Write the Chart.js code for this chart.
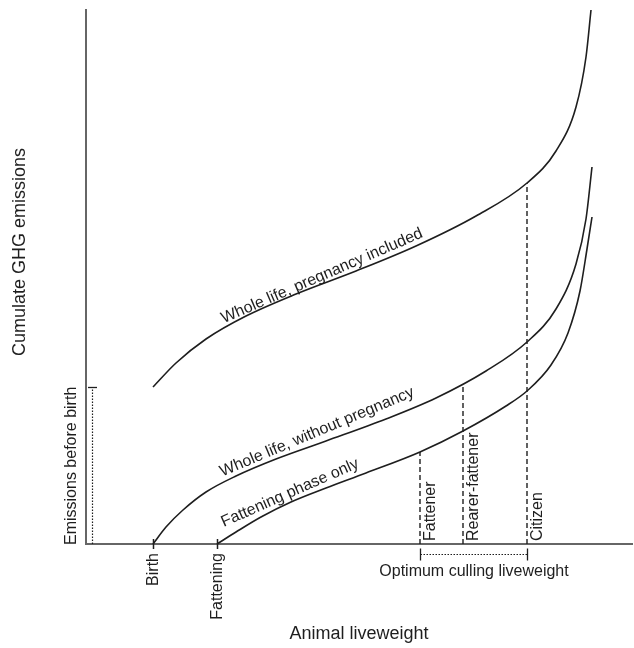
<!DOCTYPE html>
<html><head><meta charset="utf-8">
<script src="https://cdn.jsdelivr.net/npm/chart.js@4.4.0/dist/chart.umd.min.js"></script>
<style>html,body{margin:0;padding:0;background:#fff;}#wrap{width:634px;height:648px;position:relative;}</style>
</head><body><div id="wrap"><canvas id="c"></canvas></div>
<script>
// Schematic values (arbitrary units)
const liveweightPregnancy = [67, 90, 120, 160, 210, 270, 330, 390, 441, 470, 490, 500, 505];
const ghgPregnancy        = [157, 181, 205, 228, 250, 273, 298, 328, 361, 393, 437, 487, 534];
const liveweightNoPregnancy = [67, 80, 97, 120, 150, 190, 240, 300, 350, 400, 441, 470, 490, 500, 506];
const ghgNoPregnancy        = [0, 17, 34, 52, 68, 85, 103, 125, 146, 173, 202, 235, 280, 325, 377];
const liveweightFattening = [131, 150, 175, 205, 240, 280, 334, 377, 420, 441, 465, 482, 494, 501, 506];
const ghgFattening        = [0, 12, 27, 42, 56, 71, 92, 113, 138, 153, 179, 211, 253, 295, 327];
const markerNames = ['Birth', 'Fattening'];
const markerLiveweights = [67, 131];
const cullingNames = ['Fattener', 'Rearer-fattener', 'Citizen'];
const cullingLiveweights = [334, 377, 441];
const cullingEmissions = [92, 160, 361];
const emissionsBeforeBirth = 157;
const curveLabels = ['Whole life, pregnancy included', 'Whole life, without pregnancy', 'Fattening phase only'];
const curveLabelLiveweights = [236, 231, 204];
const curveLabelEmissions = [268, 112, 51];
const xMax = 546, yMax = 534;

const FONT = '"Liberation Sans", Arial, Helvetica, sans-serif';
const INK = '#1e1e1e';

const pts = (xs, ys) => xs.map((v, i) => ({x: v, y: ys[i]}));
const curve = (xs, ys) => ({data: pts(xs, ys), borderColor: INK, borderWidth: 1.6,
  pointRadius: 0, cubicInterpolationMode: 'monotone', clip: false, fill: false});
const dashed = i => ({data: [{x: cullingLiveweights[i], y: 0}, {x: cullingLiveweights[i], y: cullingEmissions[i]}],
  borderColor: INK, borderWidth: 1.4, borderDash: [5, 3], pointRadius: 0, clip: false, fill: false});

const annot = {
  id: 'annot',
  afterDatasetsDraw(chart) {
    const {ctx, scales: {x, y}, chartArea: a} = chart;
    ctx.save();
    ctx.fillStyle = INK; ctx.strokeStyle = INK;
    const rotText = (t, px, py, ang, align) => {
      ctx.save(); ctx.translate(px, py); ctx.rotate(ang);
      ctx.textAlign = align; ctx.textBaseline = 'middle'; ctx.fillText(t, 0, 0); ctx.restore();
    };
    // axis titles
    ctx.font = '18px ' + FONT;
    ctx.textAlign = 'center'; ctx.textBaseline = 'middle';
    ctx.fillText('Animal liveweight', 359, 634);
    rotText('Cumulate GHG emissions', 20, 252, -Math.PI / 2, 'center');

    ctx.font = '16px ' + FONT;
    // curve labels
    const angles = [-23.4, -22.7, -23.8];
    curveLabels.forEach((t, i) => rotText(t, x.getPixelForValue(curveLabelLiveweights[i]),
      y.getPixelForValue(curveLabelEmissions[i]), angles[i] * Math.PI / 180, 'center'));

    // Birth / Fattening markers
    ctx.lineWidth = 1.5; ctx.setLineDash([]);
    markerLiveweights.forEach((v, i) => {
      const px = Math.round(x.getPixelForValue(v)) + 0.5;
      ctx.beginPath(); ctx.moveTo(px, a.bottom - 5); ctx.lineTo(px, a.bottom + 5); ctx.stroke();
      rotText(markerNames[i], px, a.bottom + 9, -Math.PI / 2, 'right');
    });

    // culling labels
    cullingLiveweights.forEach((v, i) => {
      rotText(cullingNames[i], x.getPixelForValue(v) + 11, a.bottom - 3, -Math.PI / 2, 'left');
    });

    // optimum culling bracket
    const x0 = Math.round(x.getPixelForValue(cullingLiveweights[0])) + 0.5;
    const x1 = Math.round(x.getPixelForValue(cullingLiveweights[2])) + 0.5;
    const by = a.bottom + 10.5;
    ctx.lineWidth = 1.3;
    ctx.beginPath(); ctx.moveTo(x0, by - 6); ctx.lineTo(x0, by + 6); ctx.moveTo(x1, by - 6); ctx.lineTo(x1, by + 6); ctx.stroke();
    ctx.setLineDash([1.5, 1.5]); ctx.lineWidth = 1.2;
    ctx.beginPath(); ctx.moveTo(x0, by); ctx.lineTo(x1, by); ctx.stroke();
    ctx.setLineDash([]);
    ctx.textAlign = 'center'; ctx.textBaseline = 'middle';
    ctx.fillText('Optimum culling liveweight', (x0 + x1) / 2, a.bottom + 28);

    // emissions before birth
    const ex = a.left + 6.5, ey = Math.round(y.getPixelForValue(emissionsBeforeBirth)) + 0.5;
    ctx.setLineDash([1.5, 1.5]); ctx.lineWidth = 1.2;
    ctx.beginPath(); ctx.moveTo(ex, a.bottom); ctx.lineTo(ex, ey); ctx.stroke();
    ctx.setLineDash([]); ctx.lineWidth = 1.3;
    ctx.beginPath(); ctx.moveTo(a.left + 2, ey); ctx.lineTo(a.left + 11, ey); ctx.stroke();
    rotText('Emissions before birth', a.left - 14, a.bottom + 1, -Math.PI / 2, 'left');
    ctx.restore();
  }
};

new Chart(document.getElementById('c'), {
  type: 'line',
  data: {datasets: [
    curve(liveweightPregnancy, ghgPregnancy),
    curve(liveweightNoPregnancy, ghgNoPregnancy),
    curve(liveweightFattening, ghgFattening),
    dashed(0), dashed(1), dashed(2)
  ]},
  options: {
    responsive: true, maintainAspectRatio: false, animation: false,
    layout: {padding: {left: 86, top: 10, right: 2, bottom: 104}},
    plugins: {legend: {display: false}, tooltip: {enabled: false}},
    scales: {
      x: {type: 'linear', min: 0, max: xMax, grid: {display: false, drawTicks: false},
          ticks: {display: false}, border: {display: true, color: '#666', width: 2}},
      y: {type: 'linear', min: 0, max: yMax, grid: {display: false, drawTicks: false},
          ticks: {display: false}, border: {display: true, color: '#666', width: 2}}
    }
  },
  plugins: [annot]
});
</script></body></html>
